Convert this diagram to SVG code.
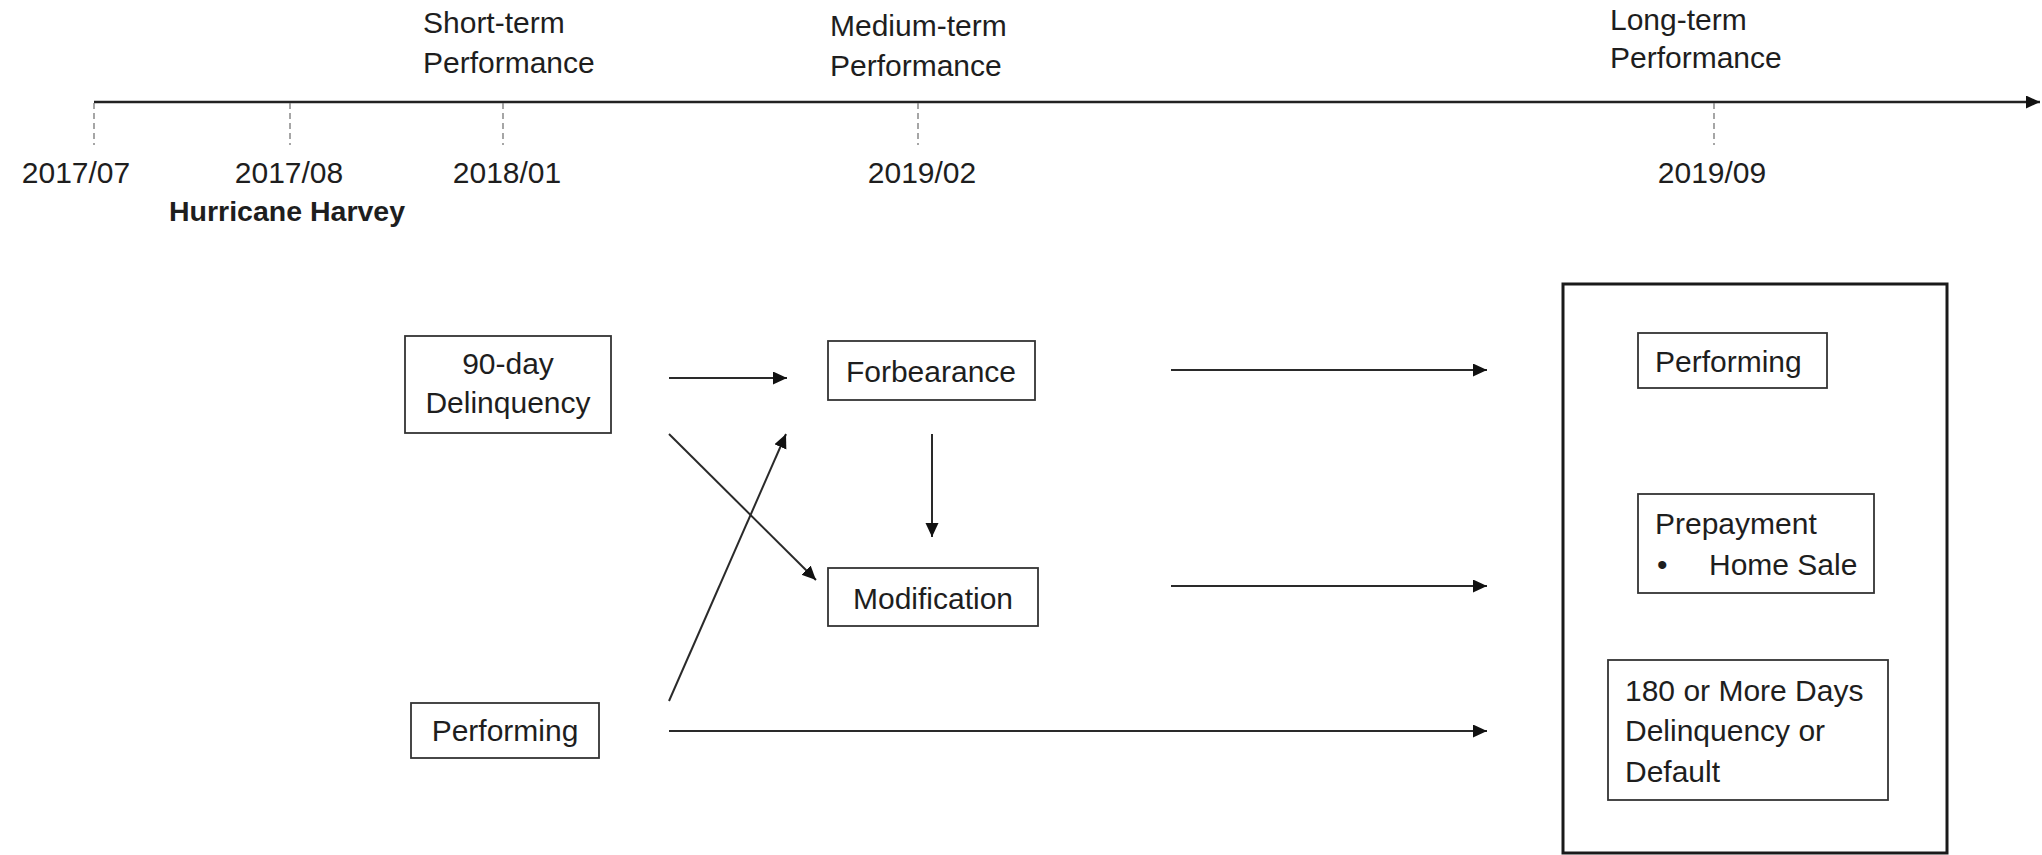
<svg xmlns="http://www.w3.org/2000/svg" width="2042" height="855" viewBox="0 0 2042 855">
<style>
text{font-family:"Liberation Sans",Arial,sans-serif;font-size:30px;fill:#1e1e1e}
.b{font-weight:bold;font-size:28.5px}
.c{text-anchor:middle}
.box{fill:#fff;stroke:#333;stroke-width:1.8}
.big{fill:none;stroke:#1a1a1a;stroke-width:3}
.ln{stroke:#2a2a2a;stroke-width:2;fill:none}
.tick{stroke:#777;stroke-width:1.3;stroke-dasharray:6 4}
</style>
<defs>
<marker id="ah" markerUnits="userSpaceOnUse" markerWidth="15" markerHeight="14" refX="14" refY="6.5" orient="auto">
<path d="M0,0 L14,6.5 L0,13 z" fill="#111"/>
</marker>
</defs>
<rect width="2042" height="855" fill="#fff"/>
<g id="timeline">
<line x1="94" y1="102" x2="2040" y2="102" stroke="#222" stroke-width="2.5" marker-end="url(#ah)"/>
<line class="tick" x1="94" y1="103" x2="94" y2="145"/>
<line class="tick" x1="290" y1="103" x2="290" y2="145"/>
<line class="tick" x1="503" y1="103" x2="503" y2="145"/>
<line class="tick" x1="918" y1="103" x2="918" y2="145"/>
<line class="tick" x1="1714" y1="103" x2="1714" y2="145"/>
<text x="423" y="33">Short-term</text>
<text x="423" y="73">Performance</text>
<text x="830" y="36">Medium-term</text>
<text x="830" y="76">Performance</text>
<text x="1610" y="30">Long-term</text>
<text x="1610" y="68">Performance</text>
<text class="c" x="76" y="183">2017/07</text>
<text class="c" x="289" y="183">2017/08</text>
<text class="c" x="507" y="183">2018/01</text>
<text class="c" x="922" y="183">2019/02</text>
<text class="c" x="1712" y="183">2019/09</text>
<text class="b" x="169" y="221">Hurricane Harvey</text>
</g>
<g id="connectors">
<line class="ln" x1="669" y1="378" x2="787" y2="378" marker-end="url(#ah)"/>
<line class="ln" x1="669" y1="434" x2="816" y2="580" marker-end="url(#ah)"/>
<line class="ln" x1="669" y1="701" x2="786" y2="434" marker-end="url(#ah)"/>
<line class="ln" x1="932" y1="434" x2="932" y2="537" marker-end="url(#ah)"/>
<line class="ln" x1="1171" y1="370" x2="1487" y2="370" marker-end="url(#ah)"/>
<line class="ln" x1="1171" y1="586" x2="1487" y2="586" marker-end="url(#ah)"/>
<line class="ln" x1="669" y1="731" x2="1487" y2="731" marker-end="url(#ah)"/>
</g>
<g id="delinquency90">
<rect class="box" x="405" y="336" width="206" height="97"/>
<text class="c" x="508" y="374">90-day</text>
<text class="c" x="508" y="413">Delinquency</text>
</g>
<g id="forbearance">
<rect class="box" x="828" y="341" width="207" height="59"/>
<text class="c" x="931" y="382">Forbearance</text>
</g>
<g id="modification">
<rect class="box" x="828" y="568" width="210" height="58"/>
<text class="c" x="933" y="609">Modification</text>
</g>
<g id="performing-start">
<rect class="box" x="411" y="703" width="188" height="55"/>
<text class="c" x="505" y="741">Performing</text>
</g>
<g id="outcomes">
<rect class="big" x="1563" y="284" width="384" height="569"/>
</g>
<g id="performing-end">
<rect class="box" x="1638" y="333" width="189" height="55"/>
<text x="1655" y="372">Performing</text>
</g>
<g id="prepayment">
<rect class="box" x="1638" y="494" width="236" height="99"/>
<text x="1655" y="534">Prepayment</text>
<text x="1657" y="575">•</text>
<text x="1709" y="575">Home Sale</text>
</g>
<g id="default180">
<rect class="box" x="1608" y="660" width="280" height="140"/>
<text x="1625" y="701">180 or More Days</text>
<text x="1625" y="741">Delinquency or</text>
<text x="1625" y="782">Default</text>
</g>
</svg>
